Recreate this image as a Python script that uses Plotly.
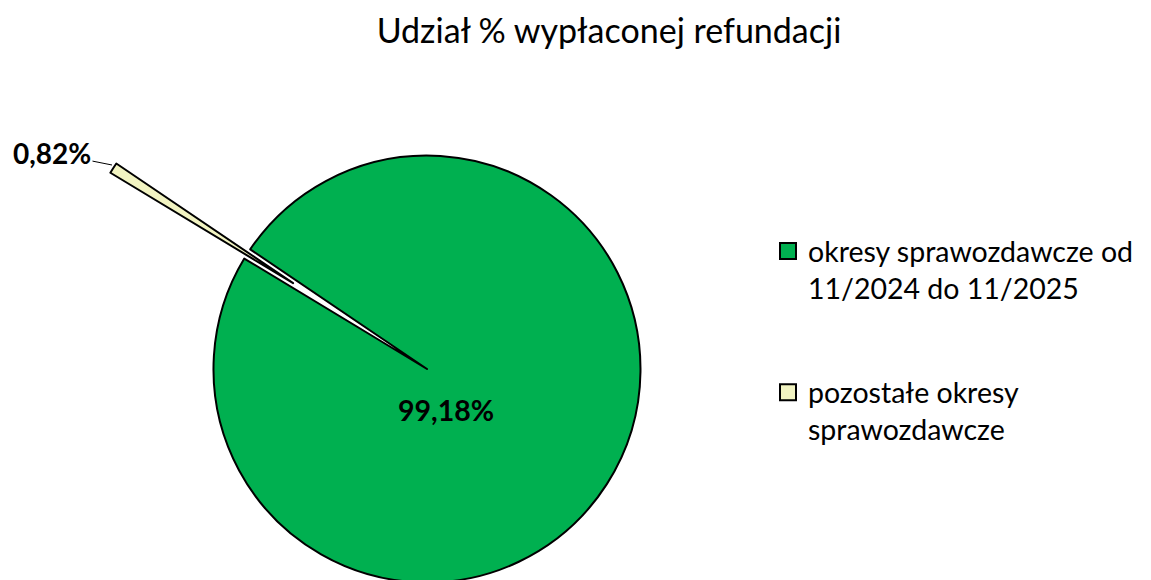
import plotly.graph_objects as go

# ---- data ----
categories = ["okresy sprawozdawcze od<br>11/2024 do 11/2025",
              "pozostałe okresy<br>sprawozdawcze"]
shares = [99.18, 0.82]
colors = ["#00B050", "#F2F4C2"]
title_text = "Udział % wypłaconej refundacji"

W, H = 1151, 580
OFF = 8  # body margin of the page
FONT = "Lato, Carlito, Calibri, sans-serif"


def fmt(v):
    return f"{v:.2f}%".replace(".", ",")


def px(x):
    return (x - OFF) / W


def py(y):
    return 1 - (y - OFF) / H


def dom_x(a, b):
    return [max(0.0, px(a)), min(1.0, px(b))]


def dom_y(top, bottom):
    return [max(0.0, py(bottom)), min(1.0, py(top))]


R = 213.5
rotation = -55.9
cx, cy = 427.0, 369.0
ex, ey = 293.1, 283.2

fig = go.Figure()

fig.add_trace(go.Pie(
    labels=categories, values=shares, sort=False, direction="clockwise",
    rotation=rotation,
    marker=dict(colors=[colors[0], "rgba(0,0,0,0)"],
                line=dict(color="black", width=[2, 0])),
    textinfo="none", hoverinfo="skip", showlegend=False,
    domain=dict(x=dom_x(cx - R, cx + R), y=dom_y(cy - R, cy + R)),
))

fig.add_trace(go.Pie(
    labels=categories, values=shares, sort=False, direction="clockwise",
    rotation=rotation,
    marker=dict(colors=["rgba(0,0,0,0)", colors[1]],
                line=dict(color="black", width=[0, 2])),
    textinfo="none", hoverinfo="skip", showlegend=False,
    domain=dict(x=dom_x(ex - R, ex + R), y=dom_y(ey - R, ey + R)),
))

for i, (name, col) in enumerate(zip(categories, colors)):
    fig.add_trace(go.Scatter(
        x=[None], y=[None], mode="markers", name=name,
        legendgroup=f"g{i}",
        marker=dict(symbol="square", size=16, color=col,
                    line=dict(color="black", width=2)),
        showlegend=True, hoverinfo="skip",
    ))

fig.add_annotation(
    text=f"<b>{fmt(shares[0])}</b>", x=px(445.5), y=py(410),
    xref="paper", yref="paper", xanchor="center", yanchor="middle",
    showarrow=False, font=dict(family=FONT, size=28.5, color="black"),
)
fig.add_annotation(
    text=f"<b>{fmt(shares[1])}</b>", x=px(112), y=py(165),
    xref="paper", yref="paper", ax=-60, ay=-12,
    showarrow=True, arrowhead=0, arrowwidth=1, arrowcolor="black",
    standoff=0, font=dict(family=FONT, size=28, color="black"),
)

fig.update_layout(
    width=W, height=H,
    margin=dict(l=0, r=0, t=0, b=0),
    paper_bgcolor="white", plot_bgcolor="white",
    title=dict(text=title_text, x=px(609), xanchor="center",
               y=py(31), yanchor="middle", yref="container",
               font=dict(family=FONT, size=34, color="black")),
    xaxis=dict(visible=False), yaxis=dict(visible=False),
    legend=dict(x=px(768), y=py(226), xanchor="left", yanchor="top",
                valign="top", tracegroupgap=64,
                font=dict(family=FONT, size=28.5, color="black"),
                bgcolor="rgba(0,0,0,0)"),
    showlegend=True,
)

fig.write_html("out.html")
